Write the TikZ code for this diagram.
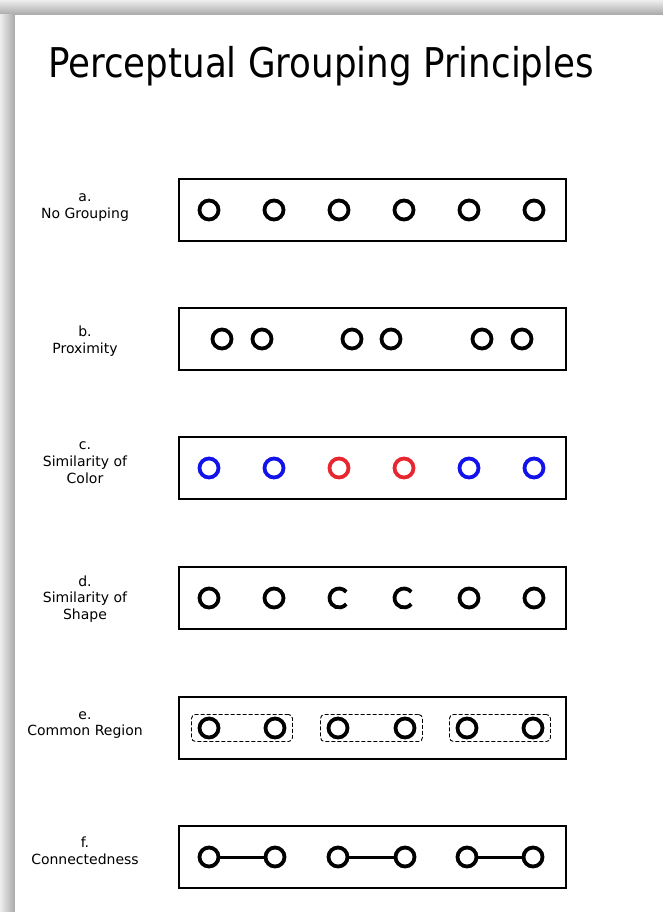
\documentclass[tikz,border=0pt]{standalone}
\usepackage{fontspec}
\setmainfont{DejaVu Sans}
\newfontfamily\fonttitulo[FakeStretch=0.87]{DejaVu Sans}
\usetikzlibrary{fit}
\definecolor{Cazul}{RGB}{18,18,235}
\definecolor{Cverm}{RGB}{232,38,48}
\definecolor{Cclaro}{RGB}{238,238,238}
\definecolor{Csombra}{RGB}{168,168,168}

\begin{document}
\begin{tikzpicture}[x=1pt, y=-1pt,
      painel/.style={draw, line width=1.7pt, minimum width=387pt,
                     minimum height=62pt, inner sep=0pt},
      anel/.style={circle, draw, line width=3.8pt, minimum size=19pt,
                   inner sep=0pt, outer sep=0pt},
      meio/.style={circle, minimum size=19pt, inner sep=0pt, outer sep=0pt},
      rotulo/.style={align=center, font=\fontsize{14}{16.8}\selectfont},
      regiao/.style={draw, line width=0.9pt, rounded corners=4pt,
                     dash pattern=on 4pt off 2pt,
                     inner xsep=8pt, inner ysep=4pt},
      ligacao/.style={line width=3pt}]
    \useasboundingbox (0,0) rectangle (663,912);
    % Sombra da pagina
    \shade[top color=Cclaro, bottom color=Csombra] (0,0) rectangle (663,15);
    \shade[left color=Cclaro, right color=Csombra] (0,15) rectangle (15,912);
    \fill[white] (15,15) rectangle (663,912);
    % Titulo
    \node[anchor=base west, inner sep=0pt, font=\fonttitulo\fontsize{41}{46}\selectfont]
      (titulo) at (48,78) {Perceptual Grouping Principles};
    % Paineis
    \node[painel] (pa) at (372.2,210) {};
    \node[painel] (pb) at (372.2,339) {};
    \node[painel] (pc) at (372.2,468) {};
    \node[painel] (pd) at (372.2,598) {};
    \node[painel] (pe) at (372.2,728) {};
    \node[painel] (pf) at (372.2,857) {};
    % Rotulos
    \node[rotulo] (ra) at (85,207.5) {a.\\No Grouping};
    \node[rotulo] (rb) at (85,341)   {b.\\Proximity};
    \node[rotulo] (rc) at (85,462.5) {c.\\Similarity of\\Color};
    \node[rotulo] (rd) at (85,599)   {d.\\Similarity of\\Shape};
    \node[rotulo] (re) at (85,725)   {e.\\Common Region};
    \node[rotulo] (rf) at (85,851)   {f.\\Connectedness};
    % a. sem agrupamento
    \node[anel] (a1) at (209,210) {}; \node[anel] (a2) at (274,210) {};
    \node[anel] (a3) at (339,210) {}; \node[anel] (a4) at (404,210) {};
    \node[anel] (a5) at (469,210) {}; \node[anel] (a6) at (534,210) {};
    % b. proximidade
    \node[anel] (b1) at (222,339) {}; \node[anel] (b2) at (262,339) {};
    \node[anel] (b3) at (352,339) {}; \node[anel] (b4) at (391,339) {};
    \node[anel] (b5) at (482,339) {}; \node[anel] (b6) at (522,339) {};
    % c. cor
    \node[anel, draw=Cazul] (c1) at (209,468) {};
    \node[anel, draw=Cazul] (c2) at (274,468) {};
    \node[anel, draw=Cverm] (c3) at (339,468) {};
    \node[anel, draw=Cverm] (c4) at (404,468) {};
    \node[anel, draw=Cazul] (c5) at (469,468) {};
    \node[anel, draw=Cazul] (c6) at (534,468) {};
    % d. forma
    \node[anel] (d1) at (209,598) {}; \node[anel] (d2) at (274,598) {};
    \node[meio] (d3) at (339,598) {}; \node[meio] (d4) at (404,598) {};
    \node[anel] (d5) at (469,598) {}; \node[anel] (d6) at (534,598) {};
    \draw[line width=3.8pt] (d3.40) arc[start angle=40, end angle=320, radius=9.5pt];
    \draw[line width=3.8pt] (d4.40) arc[start angle=40, end angle=320, radius=9.5pt];
    % e. regiao comum
    \node[anel] (e1) at (209,728) {}; \node[anel] (e2) at (275,728) {};
    \node[anel] (e3) at (338,728) {}; \node[anel] (e4) at (405,728) {};
    \node[anel] (e5) at (467,728) {}; \node[anel] (e6) at (533,728) {};
    \node[regiao, fit=(e1)(e2)] (g1) {};
    \node[regiao, fit=(e3)(e4)] (g2) {};
    \node[regiao, fit=(e5)(e6)] (g3) {};
    % f. conexao
    \node[anel] (f1) at (209,857) {}; \node[anel] (f2) at (275,857) {};
    \node[anel] (f3) at (338,857) {}; \node[anel] (f4) at (405,857) {};
    \node[anel] (f5) at (467,857) {}; \node[anel] (f6) at (533,857) {};
    \draw[ligacao] (f1) -- (f2);
    \draw[ligacao] (f3) -- (f4);
    \draw[ligacao] (f5) -- (f6);
  \end{tikzpicture}
\end{document}
